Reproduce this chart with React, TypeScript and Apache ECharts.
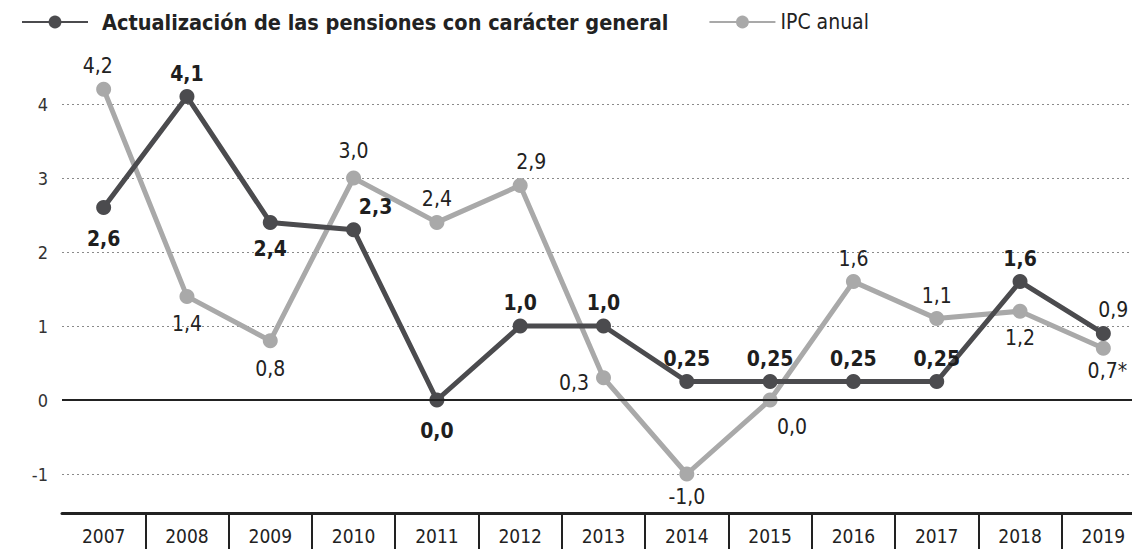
import React, { useEffect, useRef } from 'react';
import * as echarts from 'echarts';

const years = ['2007', '2008', '2009', '2010', '2011', '2012', '2013', '2014', '2015', '2016', '2017', '2018', '2019'];
const pensiones = [2.6, 4.1, 2.4, 2.3, 0.0, 1.0, 1.0, 0.25, 0.25, 0.25, 0.25, 1.6, 0.9];
const ipc = [4.2, 1.4, 0.8, 3.0, 2.4, 2.9, 0.3, -1.0, 0.0, 1.6, 1.1, 1.2, 0.7];
const ipcNotes = ['', '', '', '', '', '', '', '', '', '', '', '', '*'];
const pensionName = 'Actualización de las pensiones con carácter general';
const ipcName = 'IPC anual';

// label placement (layout only): [position, dx, dy, bold]
const pensionLabelLayout: [string, number, number, boolean][] = [
  ['bottom', 0, 8, true], ['top', 0, 0, true], ['bottom', 0, 4, true], ['top', 22, 0, true], ['bottom', 0, 8, true],
  ['top', 0, 0, true], ['top', 0, 0, true], ['top', 0, 0, true], ['top', 0, 0, true], ['top', 0, 0, true],
  ['top', 0, 0, true], ['top', 0, 0, true], ['top', 10, 0, false],
];
const ipcLabelLayout: [string, number, number][] = [
  ['top', -6, 0], ['bottom', 0, 5], ['bottom', 0, 5], ['top', 0, -4], ['top', 0, 0],
  ['top', 11, 0], ['left', -2, 5], ['bottom', 0, 0], ['bottom', 22, 4], ['top', 0, 0],
  ['top', 0, 0], ['bottom', 0, 4], ['bottom', 4, 0],
];

const FONT = '"Liberation Sans Narrow", "DejaVu Sans Condensed", "Roboto Condensed", Roboto, sans-serif';
const DARK = '#4b4b4e';
const LIGHT = '#a9a9a9';

const fmt = (v: number) => {
  const s = Math.round(v * 10) === v * 10 ? v.toFixed(1) : v.toFixed(2);
  return s.replace('.', ',');
};

export default function App() {
  const ref = useRef<HTMLDivElement>(null);
  useEffect(() => {
    if (!ref.current) return;
    const chart = echarts.init(ref.current, undefined, { renderer: 'svg' });
    const option = {
      animation: false,
      backgroundColor: '#ffffff',
      textStyle: { fontFamily: FONT },
      legend: {
        left: 16,
        top: 6,
        itemWidth: 66,
        itemHeight: 16,
        itemGap: 40,
        data: [pensionName, ipcName],
        formatter: (n: string) => (n === pensionName ? `{b|${n}}` : `{n|${n}}`),
        textStyle: {
          rich: {
            b: { fontWeight: 'bold', fontSize: 21.5, color: '#222', padding: [0, 0, 0, 9], fontFamily: FONT },
            n: { fontSize: 21, color: '#222', fontFamily: FONT },
          },
        },
      },
      grid: { left: 62, right: -13, top: 30, bottom: 75, containLabel: false, outerBoundsMode: 'none' },
      xAxis: {
        type: 'category',
        data: years,
        boundaryGap: true,
        offset: 39,
        axisLine: { onZero: false, lineStyle: { color: '#222', width: 3 } },
        axisTick: {
          show: true,
          interval: (i: number) => i > 0,
          length: 36,
          lineStyle: { color: '#222', width: 2 },
        },
        axisLabel: { color: '#222', fontSize: 19, margin: 13, fontFamily: FONT },
      },
      yAxis: {
        type: 'value',
        min: -1,
        max: 5,
        interval: 1,
        axisLine: { show: false },
        axisTick: { show: false },
        axisLabel: {
          color: '#333',
          fontSize: 18,
          margin: 14,
          fontFamily: FONT,
          formatter: (v: number) => (v >= 5 ? '' : String(v)),
        },
        splitLine: {
          show: true,
          showMaxLine: false,
          lineStyle: { type: [2, 3], color: '#8a8a8a', width: 1 },
        },
      },
      series: [
        {
          name: ipcName,
          type: 'line',
          symbol: 'circle',
          symbolSize: 15,
          color: LIGHT,
          lineStyle: { color: LIGHT, width: 5 },
          itemStyle: { color: LIGHT },
          z: 2,
          data: ipc.map((v, i) => ({
            value: v,
            label: {
              show: true,
              position: ipcLabelLayout[i][0],
              offset: [ipcLabelLayout[i][1], ipcLabelLayout[i][2]],
              formatter: fmt(v) + ipcNotes[i],
              color: '#222',
              fontSize: 21,
              fontFamily: FONT,
            },
          })),
          markLine: {
            silent: true,
            symbol: 'none',
            label: { show: false },
            lineStyle: { color: '#222', width: 2, type: 'solid' },
            data: [{ yAxis: 0 }],
          },
        },
        {
          name: pensionName,
          type: 'line',
          symbol: 'circle',
          symbolSize: 15,
          color: DARK,
          lineStyle: { color: DARK, width: 5 },
          itemStyle: { color: DARK },
          z: 3,
          data: pensiones.map((v, i) => ({
            value: v,
            label: {
              show: true,
              position: pensionLabelLayout[i][0],
              offset: [pensionLabelLayout[i][1], pensionLabelLayout[i][2]],
              formatter: fmt(v),
              color: '#1e1e1e',
              fontWeight: pensionLabelLayout[i][3] ? 'bold' : 'normal',
              fontSize: 21,
              fontFamily: FONT,
            },
          })),
        },
      ],
    };
    chart.setOption(option as any);
    return () => chart.dispose();
  }, []);
  return (
    <div
      ref={ref}
      style={{ position: 'absolute', left: 0, top: 0, width: 1132, height: 549, background: '#fff' }}
    />
  );
}
